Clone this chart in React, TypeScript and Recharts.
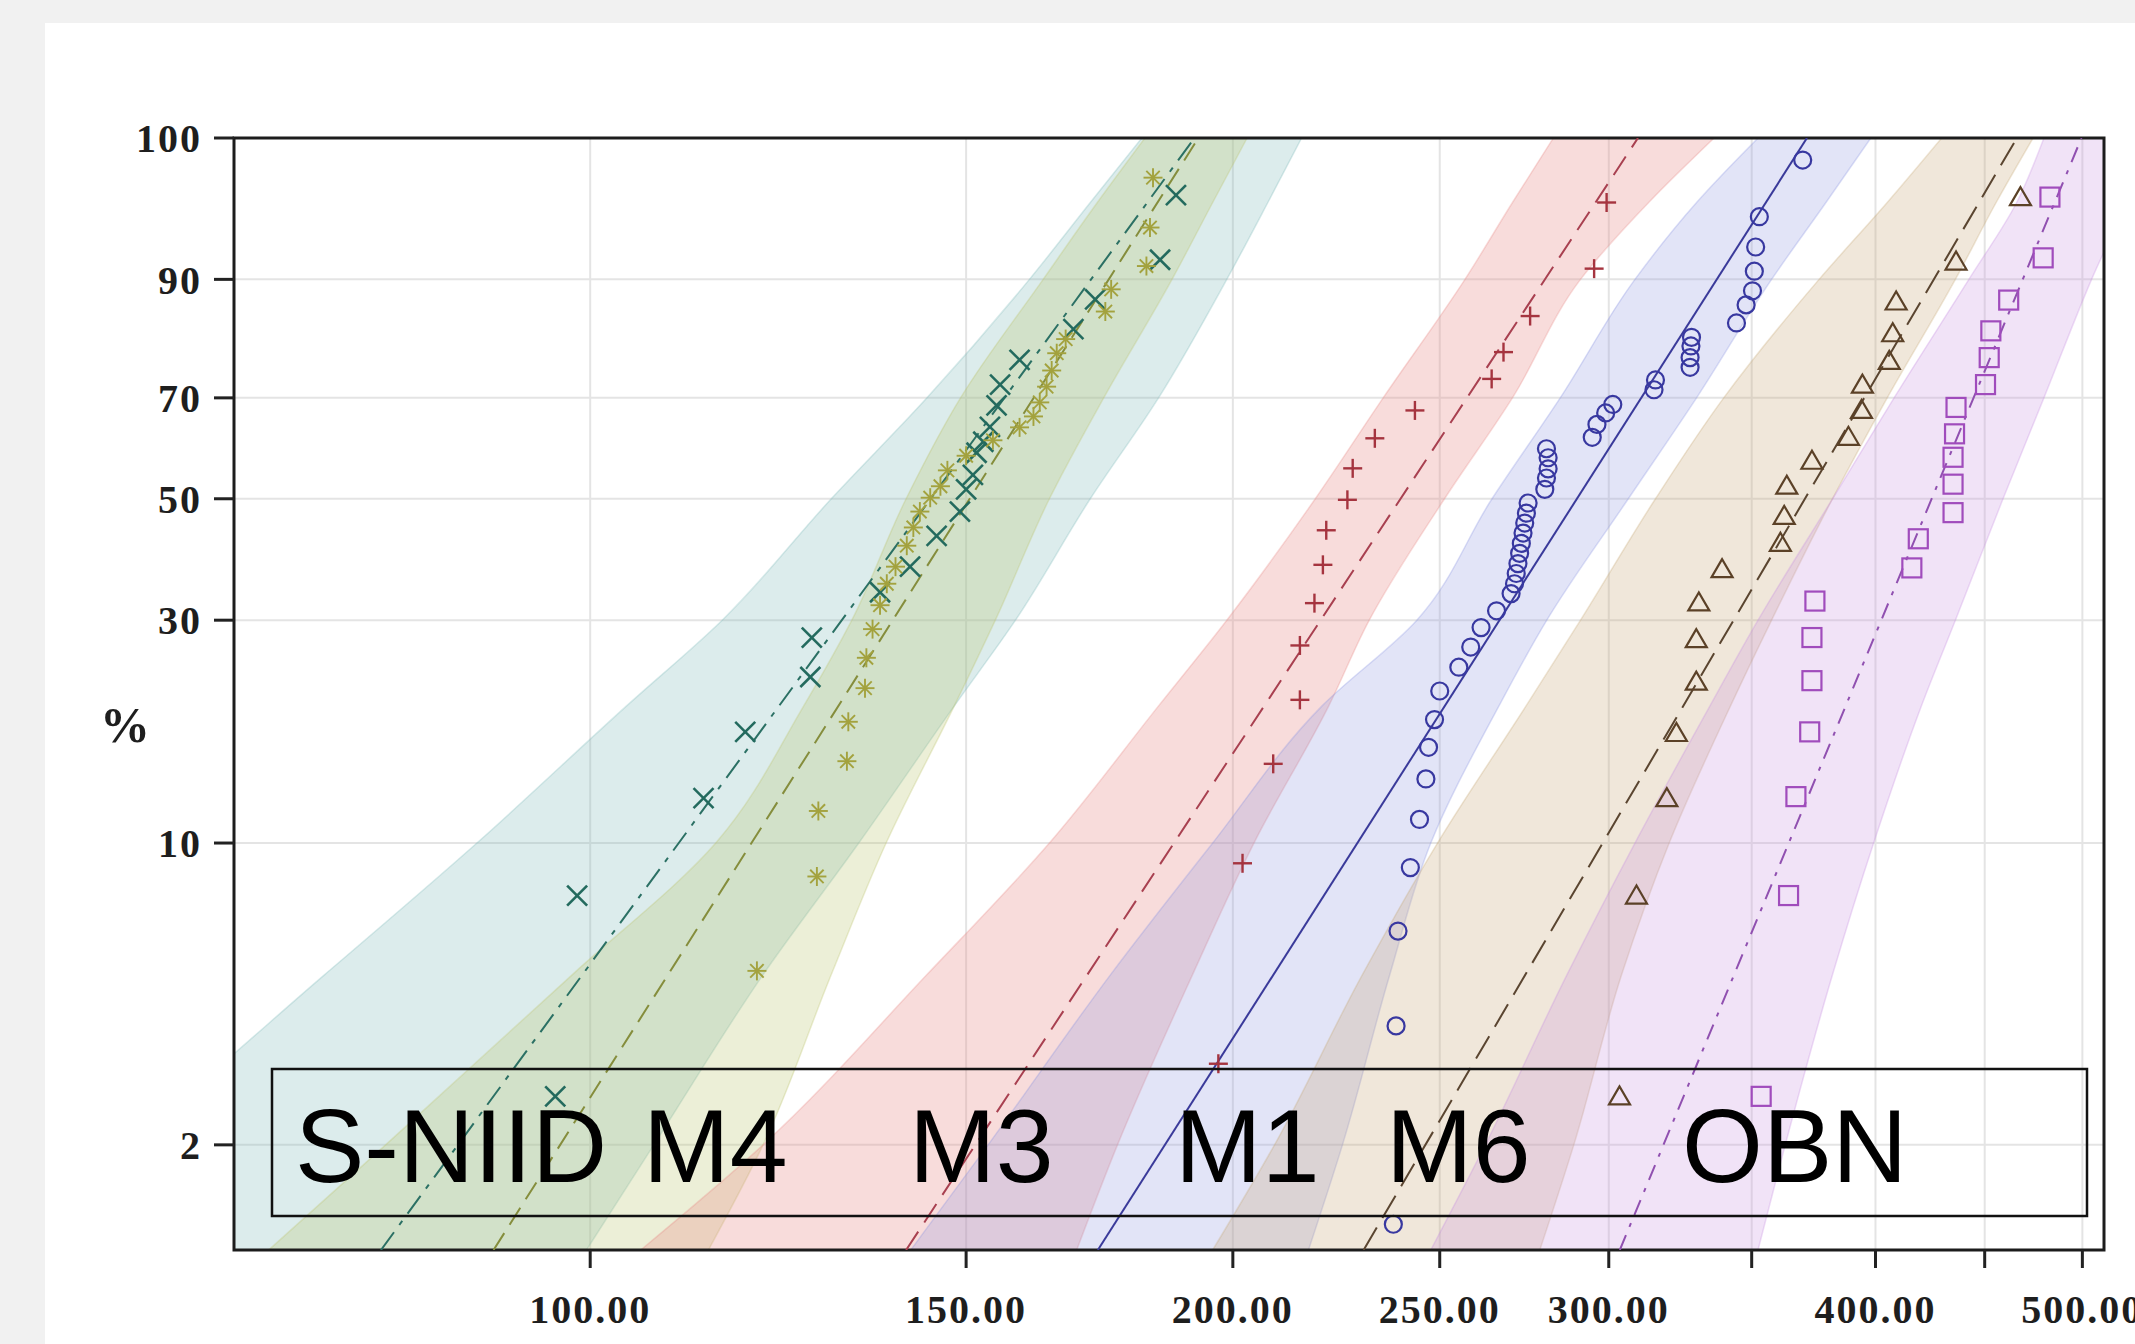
import React from "react";
import {
  Area,
  CartesianGrid,
  ComposedChart,
  Line,
  ReferenceArea,
  Scatter,
  XAxis,
  YAxis,
} from "recharts";

// x ticks (strength), only some are labelled
const xTickValues = [100, 150, 200, 250, 300, 350, 400, 450, 500];
const xTickLabelled = [true, true, true, true, true, false, true, false, true];
// y ticks (cumulative percent, Weibull scale)
const yTickPercents = [2, 10, 30, 50, 70, 90];
const yTopLabel = "100";

const xLow = 68.1;
const xHigh = 511.8;
const pLow = 1.13;
const pHigh = 99.32;

// points: [value, percent]
const sniidPoints = [
  [96.3, 2.6], [98.6, 7.6], [113.0, 12.6], [118.2, 17.6], [126.8, 23.0], [127.0, 27.7],
  [136.7, 34.0], [141.2, 38.0], [145.3, 43.2], [149.0, 47.6], [150.0, 51.8], [151.1, 54.6],
  [151.7, 59.0], [152.8, 61.2], [153.9, 64.2], [155.0, 68.5], [155.6, 72.6], [158.9, 77.3],
  [168.4, 82.7], [172.4, 87.3], [184.9, 92.3], [188.1, 97.4],
];
const m4Points = [
  [119.7, 5.1], [127.7, 8.4], [127.9, 11.8], [131.9, 15.2], [132.1, 18.5], [134.5, 21.8],
  [134.7, 25.2], [135.6, 28.8], [136.7, 32.1], [137.7, 35.3], [139.0, 38.0], [140.7, 41.5],
  [141.7, 44.7], [142.7, 47.6], [144.3, 50.2], [145.9, 52.4], [147.0, 55.5], [150.0, 58.4],
  [154.4, 61.5], [158.9, 64.1], [161.3, 66.3], [162.4, 69.1], [163.6, 72.2], [164.5, 75.3],
  [165.4, 78.5], [167.0, 81.0], [174.3, 85.5], [175.4, 88.7], [182.2, 91.6], [182.9, 95.3],
  [183.5, 98.2],
];
const m3Points = [
  [196.9, 3.1], [202.1, 9.0], [208.9, 15.0], [215.0, 20.6], [215.0, 26.7], [218.4, 32.4],
  [220.4, 38.3], [221.2, 44.2], [226.3, 49.8], [227.6, 55.9], [233.1, 61.9], [243.4, 67.5],
  [264.4, 73.7], [267.8, 78.7], [275.6, 84.8], [295.3, 91.3], [299.3, 97.0],
];
const m1Points = [
  [237.8, 1.3], [238.5, 3.8], [239.0, 6.3], [242.2, 8.8], [244.6, 11.3], [246.3, 13.9],
  [247.0, 16.3], [248.6, 18.7], [250.0, 21.5], [255.2, 24.1], [258.5, 26.5], [261.4, 29.0],
  [265.8, 31.3], [270.0, 33.8], [271.0, 35.3], [271.5, 36.9], [272.0, 38.5], [272.5, 40.2],
  [273.0, 41.9], [273.5, 43.7], [274.0, 45.5], [274.5, 47.3], [275.0, 49.2], [280.0, 51.8],
  [280.5, 54.0], [281.0, 55.8], [281.0, 58.0], [280.5, 59.8], [294.7, 62.1], [296.2, 64.7],
  [299.0, 67.0], [301.3, 68.7], [315.0, 71.6], [315.5, 73.5], [327.5, 75.9], [327.5, 77.7],
  [327.8, 79.8], [328.0, 81.3], [344.3, 83.7], [347.9, 86.5], [350.3, 88.5], [351.0, 91.0],
  [351.5, 93.6], [352.9, 96.1], [369.8, 98.8],
];
const m6Points = [
  [303.5, 2.6], [309.1, 7.6], [319.4, 12.6], [322.7, 17.5], [329.7, 22.5], [329.7, 27.5],
  [330.6, 32.5], [339.0, 37.6], [361.0, 42.0], [362.5, 46.8], [363.5, 52.5], [373.5, 57.4],
  [388.5, 62.2], [394.0, 67.6], [394.4, 72.6], [406.0, 77.1], [407.5, 82.0], [409.0, 87.0],
  [436.3, 92.1], [467.7, 97.3],
];
const obnPoints = [
  [353.6, 2.6], [364.2, 7.6], [367.1, 12.7], [372.6, 17.6], [373.5, 22.6], [373.5, 27.7],
  [374.7, 32.7], [416.0, 37.8], [418.9, 42.7], [434.9, 47.4], [434.9, 52.8], [434.9, 58.1],
  [435.6, 62.8], [436.3, 68.1], [450.4, 72.6], [452.2, 77.7], [453.0, 82.4], [461.8, 87.2],
  [479.3, 92.5], [482.8, 97.3],
];

// fitted lines: [value, percent] at the bottom and top of the frame
const sniidFit = [[79.8, 1.13], [191.9, 99.32]];
const m4Fit = [[90.1, 1.13], [192.7, 99.32]];
const m3Fit = [[140.6, 1.13], [309.6, 99.32]];
const m1Fit = [[172.9, 1.13], [371.5, 99.32]];
const m6Fit = [[230.3, 1.13], [465.9, 99.32]];
const obnFit = [[303.6, 1.13], [499.5, 99.32]];

// confidence bands: left and right value at each percent level
const bandLevels = [1.13, 2, 5, 10, 20, 30, 50, 70, 90, 97, 99.32];
const sniidBandLeft = [51.4, 60.4, 75.1, 88.5, 104.0, 115.3, 129.7, 143.8, 160.6, 171.5, 181.3];
const sniidBandRight = [99.6, 107.1, 120.5, 133.6, 148.1, 158.2, 171.5, 184.6, 198.7, 207.7, 215.4];
const m4BandLeft = [70.7, 80.2, 98.1, 114.5, 125.9, 132.6, 140.6, 149.1, 163.0, 172.8, 181.9];
const m4BandRight = [113.6, 120.5, 129.7, 137.6, 148.1, 154.8, 164.1, 174.0, 187.3, 195.7, 203.1];
const m3BandLeft = [105.6, 120.5, 143.8, 164.1, 184.6, 198.7, 218.6, 235.2, 256.9, 270.4, 282.6];
const m3BandRight = [169.0, 176.6, 191.5, 204.6, 221.8, 231.7, 251.3, 270.4, 291.0, 313.2, 336.1];
const m1BandLeft = [141.3, 153.6, 175.3, 195.7, 220.2, 243.9, 264.5, 284.7, 308.6, 329.8, 352.4];
const m1BandRight = [217.0, 225.1, 236.9, 247.6, 266.5, 280.6, 306.4, 329.8, 357.6, 379.2, 398.0];
const m6BandLeft = [195.7, 209.2, 230.0, 249.4, 274.4, 291.0, 315.5, 339.6, 376.4, 405.1, 429.6];
const m6BandRight = [278.5, 288.9, 304.2, 320.2, 342.1, 357.6, 381.9, 405.1, 436.0, 455.6, 474.1];
const obnBandLeft = [247.6, 262.6, 286.8, 308.6, 334.6, 352.4, 381.9, 408.1, 442.4, 465.8, 479.7];
const obnBandRight = [352.4, 362.9, 381.9, 399.2, 420.3, 436.0, 459.0, 479.7, 505.0, 523.9, 535.6];

const legendNames = ["S-NIID", "M4", "M3", "M1", "M6", "OBN"];
const legendX = [295, 643, 909, 1175, 1386, 1682];

const toU = (v: number) => Math.log10(v);
const toW = (p: number) => Math.log(-Math.log(1 - p / 100));

const uMin = toU(xLow);
const uMax = toU(xHigh);
const wMin = toW(pLow);
const wMax = toW(pHigh);

const xTicksU = xTickValues.map(toU);
const yTicksW = [...yTickPercents.map(toW), wMax];
const yTickLabels = [...yTickPercents.map(String), yTopLabel];

type Kind = "x" | "star" | "plus" | "circle" | "triangle" | "square";

const series = [
  { points: sniidPoints, fit: sniidFit, left: sniidBandLeft, right: sniidBandRight, kind: "x" as Kind, color: "#236a5e", line: "#2b7064", dash: "22 9 5 9", band: "#7fb8b8", op: 0.27 },
  { points: m4Points, fit: m4Fit, left: m4BandLeft, right: m4BandRight, kind: "star" as Kind, color: "#a3a23e", line: "#858d3c", dash: "20 10", band: "#bcc46e", op: 0.28 },
  { points: m3Points, fit: m3Fit, left: m3BandLeft, right: m3BandRight, kind: "plus" as Kind, color: "#a5343f", line: "#a84050", dash: "22 11", band: "#e88c88", op: 0.3 },
  { points: m1Points, fit: m1Fit, left: m1BandLeft, right: m1BandRight, kind: "circle" as Kind, color: "#3838a0", line: "#3a3a9a", dash: undefined, band: "#8c94e0", op: 0.25 },
  { points: m6Points, fit: m6Fit, left: m6BandLeft, right: m6BandRight, kind: "triangle" as Kind, color: "#5b4127", line: "#5a4530", dash: "26 11", band: "#c8a878", op: 0.27 },
  { points: obnPoints, fit: obnFit, left: obnBandLeft, right: obnBandRight, kind: "square" as Kind, color: "#a04cbc", line: "#9050b0", dash: "16 9 4 9", band: "#c890e0", op: 0.25 },
];

function markerShape(kind: Kind, color: string) {
  return (props: any) => {
    const { cx, cy } = props;
    if (cx == null || cy == null) return <g />;
    if (kind === "x") {
      const s = 10;
      return (
        <g stroke={color} strokeWidth={2.6}>
          <line x1={cx - s} y1={cy - s} x2={cx + s} y2={cy + s} />
          <line x1={cx - s} y1={cy + s} x2={cx + s} y2={cy - s} />
        </g>
      );
    }
    if (kind === "plus") {
      const s = 9.5;
      return (
        <g stroke={color} strokeWidth={2.4}>
          <line x1={cx - s} y1={cy} x2={cx + s} y2={cy} />
          <line x1={cx} y1={cy - s} x2={cx} y2={cy + s} />
        </g>
      );
    }
    if (kind === "star") {
      const r = 9.5;
      const d = r * 0.7071;
      return (
        <g stroke={color} strokeWidth={1.9}>
          <line x1={cx - r} y1={cy} x2={cx + r} y2={cy} />
          <line x1={cx} y1={cy - r} x2={cx} y2={cy + r} />
          <line x1={cx - d} y1={cy - d} x2={cx + d} y2={cy + d} />
          <line x1={cx - d} y1={cy + d} x2={cx + d} y2={cy - d} />
        </g>
      );
    }
    if (kind === "circle") {
      return <circle cx={cx} cy={cy} r={8.5} fill="none" stroke={color} strokeWidth={2.2} />;
    }
    if (kind === "triangle") {
      return (
        <polygon
          points={`${cx},${cy - 10} ${cx - 10.5},${cy + 8} ${cx + 10.5},${cy + 8}`}
          fill="none"
          stroke={color}
          strokeWidth={2.2}
        />
      );
    }
    return <rect x={cx - 9.5} y={cy - 9.5} width={19} height={19} fill="none" stroke={color} strokeWidth={2.2} />;
  };
}

function closestLabel(v: number, values: number[], labels: string[]) {
  let best = 0;
  values.forEach((t, i) => {
    if (Math.abs(t - v) < Math.abs(values[best] - v)) best = i;
  });
  return labels[best];
}

const tickFont = {
  fill: "#1e1e1e",
  fontSize: 40,
  fontFamily: "Liberation Serif, Times New Roman, serif",
  fontWeight: 700,
  letterSpacing: 2,
};

export default function App() {
  const xLabels = xTickValues.map((v, i) => (xTickLabelled[i] ? v.toFixed(2) : ""));

  return (
    <div style={{ position: "absolute", left: 0, top: 0, width: 2135, height: 1344, background: "#f1f1f1", overflow: "hidden" }}>
      <div style={{ position: "absolute", left: 45, top: 23, width: 2090, height: 1321, background: "#ffffff" }} />
      <div style={{ position: "absolute", left: 0, top: 0 }}>
        <ComposedChart
          width={2135}
          height={1344}
          layout="vertical"
          margin={{ top: 138, right: 31, bottom: 34, left: 134 }}
        >
          <CartesianGrid stroke="#e4e4e4" strokeWidth={2} />
          <XAxis
            type="number"
            dataKey="u"
            domain={[uMin, uMax]}
            allowDataOverflow
            ticks={xTicksU}
            interval={0}
            height={60}
            axisLine={false}
            tickSize={18}
            tickMargin={27}
            tickLine={{ stroke: "#222", strokeWidth: 3 }}
            tick={tickFont}
            tickFormatter={(v: number) => closestLabel(v, xTicksU, xLabels)}
          />
          <YAxis
            type="number"
            dataKey="w"
            domain={[wMin, wMax]}
            allowDataOverflow
            reversed
            ticks={yTicksW}
            interval={0}
            width={100}
            axisLine={false}
            tickSize={20}
            tickMargin={12}
            tickLine={{ stroke: "#222", strokeWidth: 3 }}
            tick={tickFont}
            tickFormatter={(v: number) => closestLabel(v, yTicksW, yTickLabels)}
          />
          {series.map((s, i) => (
            <Area
              key={`band-${i}`}
              data={bandLevels.map((p, j) => ({ w: toW(p), lo: toU(s.left[j]), hi: toU(s.right[j]) }))}
              dataKey={(d: any) => [d.lo, d.hi]}
              type="monotone"
              fill={s.band}
              fillOpacity={s.op}
              stroke={s.band}
              strokeOpacity={0.3}
              strokeWidth={1.5}
              isAnimationActive={false}
            />
          ))}
          {series.map((s, i) => (
            <Line
              key={`fit-${i}`}
              data={s.fit.map(([v, p]) => ({ u: toU(v), w: toW(p) }))}
              dataKey="u"
              type="linear"
              stroke={s.line}
              strokeWidth={2}
              strokeDasharray={s.dash}
              dot={false}
              activeDot={false}
              isAnimationActive={false}
            />
          ))}
          {series.map((s, i) => (
            <Scatter
              key={`pts-${i}`}
              data={s.points.map(([v, p]) => ({ u: toU(v), w: toW(p) }))}
              shape={markerShape(s.kind, s.color)}
              isAnimationActive={false}
            />
          ))}
          <ReferenceArea
            x1={uMin}
            x2={uMax}
            y1={wMin}
            y2={wMax}
            fill="none"
            stroke="#1c1c1c"
            strokeWidth={3}
            ifOverflow="visible"
          />
        </ComposedChart>
      </div>
      <svg width={2135} height={1344} style={{ position: "absolute", left: 0, top: 0, pointerEvents: "none" }}>
        <text
          x={125}
          y={742}
          textAnchor="middle"
          fontFamily="Liberation Serif, Times New Roman, serif"
          fontWeight={700}
          fontSize={50}
          fill="#1e1e1e"
        >
          %
        </text>
        <rect x={272} y={1069} width={1815} height={147} fill="none" stroke="#111" strokeWidth={2.5} />
        {legendNames.map((name, i) => (
          <text
            key={name}
            x={legendX[i]}
            y={1182}
            fontFamily="Liberation Sans, Arial, sans-serif"
            fontSize={104}
            fill="#000"
          >
            {name}
          </text>
        ))}
      </svg>
    </div>
  );
}
